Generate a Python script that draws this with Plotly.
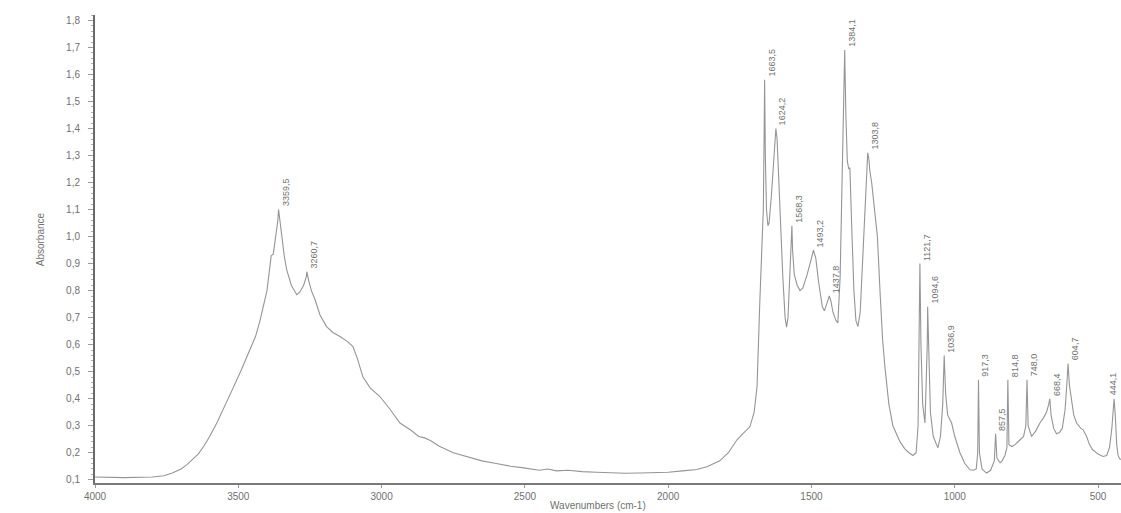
import plotly.graph_objects as go

# ---- spectrum data ----
wavenumber = [
    4000, 3900, 3800, 3760, 3730, 3700, 3680, 3660, 3640, 3620, 3600, 3575, 3550, 3518, 3490,
    3459, 3440, 3424, 3410, 3400, 3396, 3390, 3385, 3378, 3370, 3362, 3359.5, 3355, 3349, 3340,
    3331, 3315, 3296, 3285, 3272, 3263, 3260.7, 3255, 3245, 3232, 3215, 3192, 3170, 3145, 3120,
    3100, 3085, 3065, 3040, 3006, 2970, 2936, 2900, 2870, 2850, 2830, 2800, 2750, 2700, 2650,
    2600, 2550, 2510, 2480, 2450, 2420, 2390, 2350, 2300, 2250, 2200, 2150, 2100, 2050, 2000,
    1950, 1900, 1865, 1820, 1790, 1760, 1740, 1715, 1700, 1690, 1680, 1672, 1668, 1665, 1663.5,
    1661, 1657, 1652, 1648, 1640, 1632, 1626, 1624.2, 1620, 1612, 1600, 1592, 1587, 1582, 1575,
    1570, 1568.3, 1566, 1560, 1550, 1540, 1530, 1515, 1500, 1493.2, 1485, 1475, 1462, 1455, 1447,
    1440, 1437.8, 1432, 1425, 1415, 1408, 1400, 1393, 1388, 1384.1, 1380, 1375, 1370, 1366, 1360,
    1352, 1345, 1338, 1330, 1322, 1315, 1310, 1306, 1303.8, 1300, 1296, 1290, 1280, 1270, 1261,
    1252, 1244, 1230, 1216, 1200, 1191, 1175, 1160, 1146, 1135, 1128, 1124, 1121.7, 1118, 1112,
    1104, 1099, 1096, 1094.6, 1091, 1085, 1075, 1059, 1050, 1042, 1036.9, 1032, 1025, 1011, 1000,
    982, 965, 947, 935, 925, 920, 917.3, 914, 905, 895, 889, 875, 862, 857.5, 853,
    842, 835, 825, 818, 814.8, 811, 801, 790, 772, 760, 752, 748, 744, 732, 718,
    703, 690, 680, 672, 668.4, 664, 655, 645, 635, 625, 615, 608, 604.7, 600, 592,
    585, 575, 560, 552, 540, 530, 518, 500, 483, 470, 460, 452, 447, 444.1, 440,
    435, 430, 425, 420,
]
absorbance = [
    0.110, 0.108, 0.110, 0.115, 0.125, 0.140, 0.155, 0.175, 0.195, 0.225, 0.260, 0.310, 0.365, 0.440, 0.505,
    0.580, 0.630, 0.690, 0.750, 0.800, 0.834, 0.900, 0.930, 0.935, 0.990, 1.060, 1.100, 1.050, 1.010, 0.930,
    0.877, 0.820, 0.785, 0.795, 0.820, 0.850, 0.870, 0.840, 0.800, 0.766, 0.710, 0.667, 0.645, 0.630, 0.612,
    0.593, 0.550, 0.480, 0.440, 0.408, 0.360, 0.310, 0.285, 0.260, 0.255, 0.245, 0.225, 0.200, 0.185, 0.170,
    0.160, 0.150, 0.145, 0.140, 0.135, 0.140, 0.133, 0.135, 0.130, 0.128, 0.125, 0.124, 0.125, 0.126, 0.128,
    0.133, 0.138, 0.148, 0.170, 0.200, 0.248, 0.270, 0.296, 0.350, 0.444, 0.766, 0.950, 1.100, 1.400, 1.580,
    1.300, 1.100, 1.040, 1.050, 1.150, 1.300, 1.390, 1.400, 1.360, 1.150, 0.850, 0.700, 0.665, 0.700, 0.850,
    0.980, 1.040, 0.950, 0.860, 0.820, 0.800, 0.810, 0.860, 0.920, 0.950, 0.920, 0.830, 0.740, 0.725, 0.750,
    0.775, 0.780, 0.760, 0.720, 0.690, 0.680, 0.850, 1.200, 1.500, 1.690, 1.450, 1.280, 1.250, 1.255, 1.050,
    0.800, 0.690, 0.667, 0.720, 0.900, 1.100, 1.200, 1.250, 1.310, 1.290, 1.240, 1.200, 1.100, 1.000, 0.800,
    0.620, 0.520, 0.380, 0.300, 0.260, 0.240, 0.215, 0.200, 0.190, 0.200, 0.300, 0.600, 0.900, 0.600, 0.380,
    0.310, 0.450, 0.600, 0.740, 0.550, 0.350, 0.260, 0.218, 0.260, 0.380, 0.560, 0.420, 0.340, 0.310, 0.260,
    0.200, 0.160, 0.137, 0.135, 0.140, 0.200, 0.470, 0.200, 0.140, 0.130, 0.125, 0.135, 0.170, 0.270, 0.180,
    0.163, 0.170, 0.190, 0.220, 0.470, 0.230, 0.223, 0.230, 0.248, 0.260, 0.300, 0.470, 0.300, 0.260, 0.280,
    0.310, 0.330, 0.350, 0.380, 0.400, 0.340, 0.290, 0.270, 0.275, 0.290, 0.360, 0.470, 0.530, 0.450, 0.385,
    0.340, 0.310, 0.290, 0.285, 0.260, 0.230, 0.210, 0.195, 0.186, 0.190, 0.220, 0.290, 0.360, 0.400, 0.340,
    0.230, 0.190, 0.178, 0.175,
]

# ---- labelled peaks ----
peak_wn = [3359.5, 3260.7, 1663.5, 1624.2, 1568.3, 1493.2, 1437.8, 1384.1, 1303.8,
           1121.7, 1094.6, 1036.9, 917.3, 857.5, 814.8, 748.0, 668.4, 604.7, 444.1]
peak_abs = [1.100, 0.870, 1.580, 1.400, 1.040, 0.950, 0.780, 1.690, 1.310,
            0.900, 0.740, 0.560, 0.470, 0.270, 0.470, 0.470, 0.400, 0.530, 0.400]

y_ticks = [0.1, 0.2, 0.3, 0.4, 0.5, 0.6, 0.7, 0.8, 0.9, 1.0, 1.1, 1.2, 1.3, 1.4, 1.5, 1.6, 1.7, 1.8]
x_ticks = [4000, 3500, 3000, 2500, 2000, 1500, 1000, 500]

LINE = "#959595"
TEXT = "#707070"
FONT = "Liberation Sans, Arial, sans-serif"

fig = go.Figure()
fig.add_trace(go.Scatter(
    x=wavenumber, y=absorbance, mode="lines",
    line=dict(color=LINE, width=1.1), hoverinfo="x+y", showlegend=False,
))

for i, (wn, ab) in enumerate(zip(peak_wn, peak_abs)):
    last = i == len(peak_wn) - 1
    fig.add_annotation(
        x=wn, y=ab, xref="x", yref="y",
        text=f"{wn:.1f}".replace(".", ","),
        textangle=-90, showarrow=False,
        xanchor="center" if last else "left", yanchor="bottom",
        xshift=-1 if last else 0, yshift=1,
        font=dict(family=FONT, size=9, color=TEXT),
    )

fig.add_annotation(
    text="Absorbance", xref="paper", yref="paper", x=-0.053, y=0.52,
    textangle=-90, showarrow=False, xanchor="center", yanchor="middle",
    font=dict(family=FONT, size=10, color=TEXT),
)
fig.add_annotation(
    text="Wavenumbers (cm-1)", xref="paper", yref="paper", x=0.49, y=-0.049,
    showarrow=False, xanchor="center", yanchor="middle",
    font=dict(family=FONT, size=10, color=TEXT),
)

fig.update_layout(
    width=1121, height=513,
    margin=dict(l=95, r=0, t=15, b=30),
    paper_bgcolor="white", plot_bgcolor="white",
    separators=",.",
    font=dict(family=FONT, size=10, color=TEXT),
    xaxis=dict(
        range=[4000, 420], tickvals=x_ticks, ticktext=[str(t) for t in x_ticks],
        showgrid=False, zeroline=False, showline=True, linecolor="#7a7a7a", linewidth=2,
        ticks="outside", ticklen=3, tickcolor="#9a9a9a",
        tickfont=dict(family=FONT, size=10, color=TEXT),
    ),
    yaxis=dict(
        range=[0.088, 1.82], tickvals=y_ticks, tickformat=".1f",
        showgrid=False, zeroline=False, showline=True, linecolor="#6a6a6a", linewidth=2,
        ticks="outside", ticklen=5, tickcolor="#9a9a9a", ticklabelstandoff=6,
        minor=dict(dtick=0.02, tick0=0.1, ticks="outside", ticklen=2, tickcolor="#b0b0b0", showgrid=False),
        tickfont=dict(family=FONT, size=10, color=TEXT),
    ),
)

fig.write_html(
    "out.html",
    config={"displayModeBar": False},
    post_script="document.body.style.margin='0';document.body.style.overflow='hidden';",
)
